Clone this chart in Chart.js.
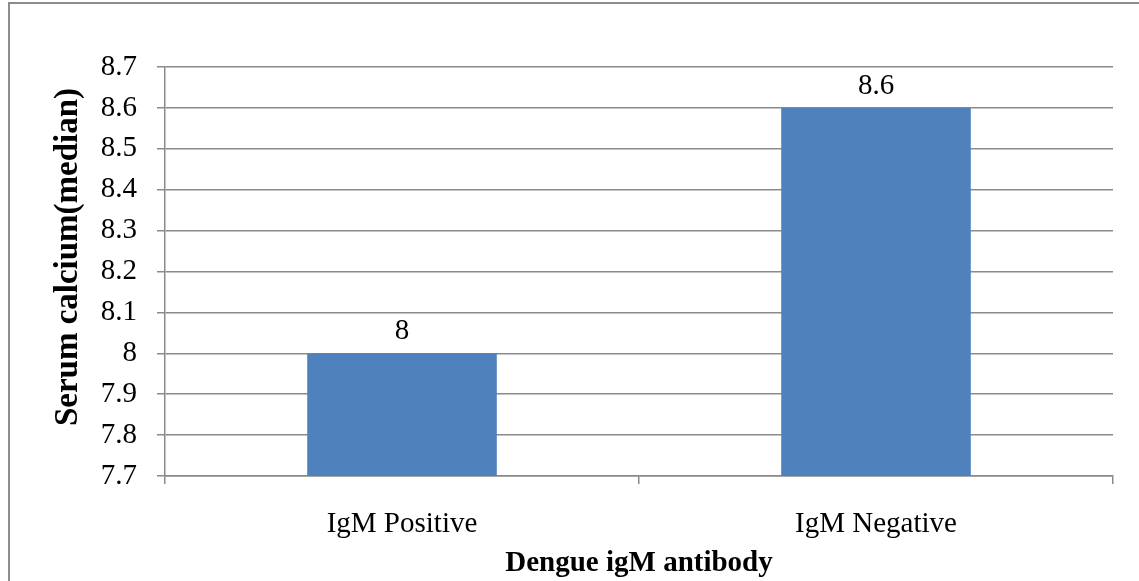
<!DOCTYPE html>
<html>
<head>
<meta charset="utf-8">
<title>Serum calcium by dengue IgM antibody</title>
<script src="https://cdn.jsdelivr.net/npm/chart.js@4/dist/chart.umd.min.js"></script>
<style>
  html, body { margin: 0; padding: 0; background: #fff; }
  #wrap { width: 1139px; height: 581px; position: relative; }
</style>
</head>
<body>
<div id="wrap"><canvas id="calciumChart"></canvas></div>
<script>
// median serum calcium per IgM group
const categories = ['IgM Positive', 'IgM Negative'];
const medians = [8.0, 8.6];
const yMin = 7.7;
const yMax = 8.7;
const yStep = 0.1;
const yTitle = 'Serum calcium(median)';
const xTitle = 'Dengue igM antibody';

const FONT = "'Liberation Serif', 'Times New Roman', serif";
const GRID = '#8a8a8a';
const BAR = '#4f81bd';

// outer frame of the figure
const framePlugin = {
  id: 'frame',
  beforeDraw(chart) {
    const ctx = chart.ctx;
    ctx.save();
    ctx.strokeStyle = '#8c8c8c';
    ctx.lineWidth = 2;
    ctx.strokeRect(9, 3, chart.width + 20, chart.height + 20);
    ctx.restore();
  }
};

// value printed above each bar, plus the rotated y title
const valueLabels = {
  id: 'valueLabels',
  afterDatasetsDraw(chart) {
    const ctx = chart.ctx;
    const meta = chart.getDatasetMeta(0);
    const data = chart.data.datasets[0].data;
    ctx.save();
    ctx.font = '29px ' + FONT;
    ctx.fillStyle = '#000';
    ctx.textAlign = 'center';
    ctx.textBaseline = 'alphabetic';
    meta.data.forEach((bar, i) => {
      ctx.fillText(String(data[i]), bar.x, bar.y - 14);
    });
    ctx.restore();

    ctx.save();
    ctx.translate(68, 257);
    ctx.rotate(-Math.PI / 2);
    ctx.font = 'bold 33px ' + FONT;
    ctx.fillStyle = '#000';
    ctx.textAlign = 'center';
    ctx.textBaseline = 'middle';
    ctx.fillText(yTitle, 0, 0);
    ctx.restore();
  }
};

new Chart(document.getElementById('calciumChart'), {
  type: 'bar',
  data: {
    labels: categories,
    datasets: [{
      data: medians,
      backgroundColor: BAR,
      borderWidth: 0,
      barPercentage: 0.4,
      categoryPercentage: 1.0
    }]
  },
  options: {
    responsive: true,
    maintainAspectRatio: false,
    animation: false,
    layout: { padding: { left: 0, right: 26, top: 67, bottom: 0 } },
    plugins: {
      legend: { display: false },
      tooltip: { enabled: false }
    },
    scales: {
      x: {
        offset: true,
        grid: {
          offset: true,
          drawOnChartArea: false,
          color: GRID,
          lineWidth: 1.5,
          tickLength: 8
        },
        border: { color: GRID, width: 1.5 },
        ticks: { color: '#000', font: { family: FONT, size: 29 }, padding: 23, maxRotation: 0 },
        title: {
          display: true,
          text: xTitle,
          color: '#000',
          font: { family: FONT, size: 29, weight: 'bold' },
          padding: { top: 0, bottom: 0 }
        },
        afterFit(scale) { scale.height = 105; }
      },
      y: {
        min: yMin,
        max: yMax,
        grid: { color: GRID, lineWidth: 1.5, tickLength: 8 },
        border: { color: GRID, width: 1.5 },
        ticks: {
          stepSize: yStep,
          color: '#000',
          padding: 20,
          font: { family: FONT, size: 29 },
          callback: v => String(Math.round(v * 10) / 10)
        },
        afterFit(scale) { scale.width = 165; }
      }
    }
  },
  plugins: [framePlugin, valueLabels]
});
</script>
</body>
</html>
